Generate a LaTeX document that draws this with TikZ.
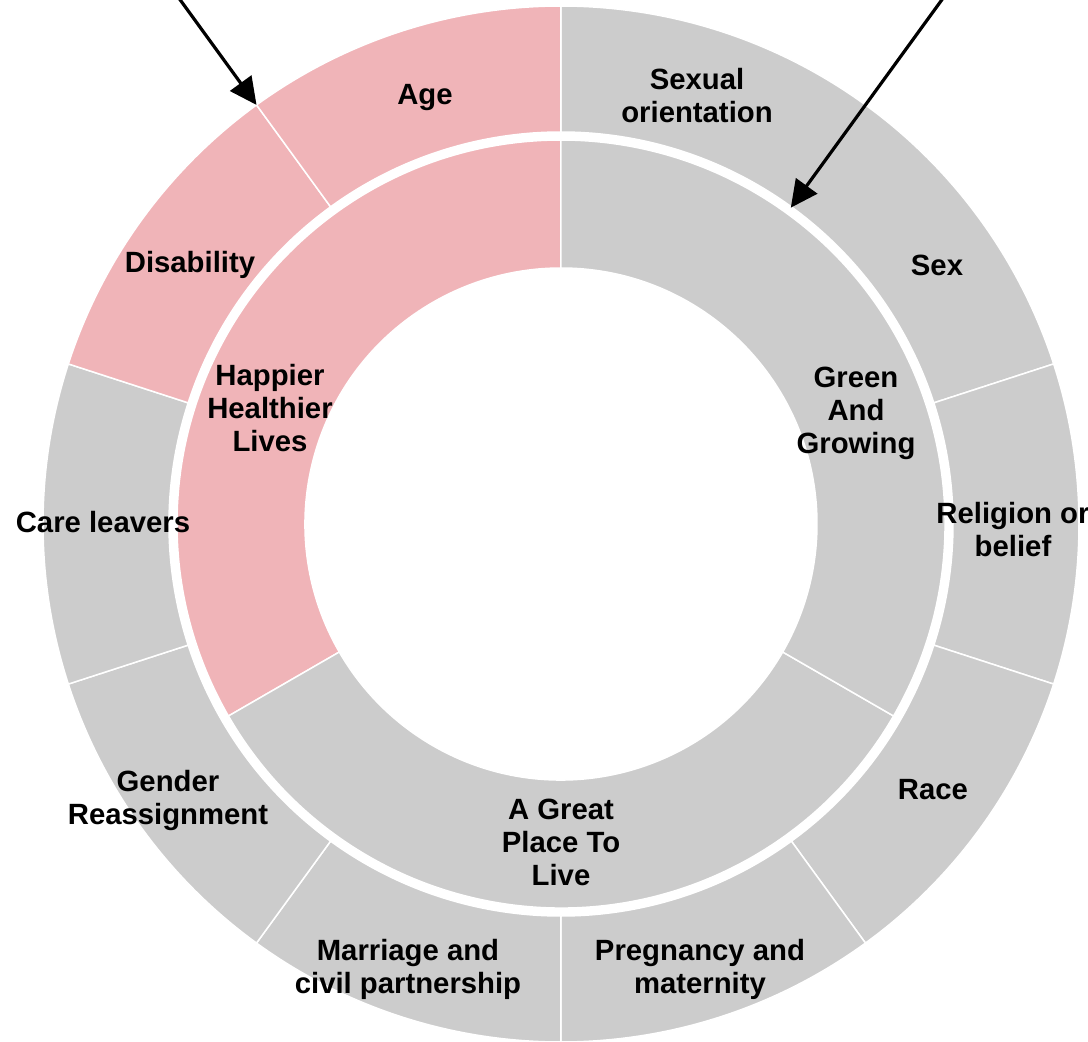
\documentclass[tikz,border=0pt]{standalone}
\usepackage{fontspec}
\setmainfont{Liberation Sans}
\usetikzlibrary{arrows.meta}
\definecolor{segpink}{RGB}{240,180,184}
\definecolor{seggray}{RGB}{204,204,204}
\begin{document}
\begin{tikzpicture}[x=1pt,y=1pt,
  lbl/.style={font=\fontsize{29.3}{33}\selectfont\bfseries, align=center, text=black, inner sep=0pt},
  seg/.style={draw=white, line width=1.5pt},
  pointer/.style={-{Triangle[length=27pt,width=26pt]}, line width=3.2pt, draw=black}]
\useasboundingbox (-561,-518) rectangle (527,524);
% outer ring
\foreach \a/\c in {54/seggray, 18/seggray, -18/seggray, -54/seggray, -90/seggray, -126/seggray, -162/seggray, 162/seggray, 126/segpink, 90/segpink}{
  \filldraw[seg, fill=\c] (\a:392) -- (\a:518) arc[start angle=\a, end angle=\a+36, radius=518] -- ({\a+36}:392) arc[start angle=\a+36, end angle=\a, radius=392] -- cycle;
}
% inner ring
\foreach \a/\c in {90/segpink, 210/seggray, -30/seggray}{
  \filldraw[seg, fill=\c] (\a:256) -- (\a:384) arc[start angle=\a, end angle=\a+120, radius=384] -- ({\a+120}:256) arc[start angle=\a+120, end angle=\a, radius=256] -- cycle;
}
% labels outer
\node[lbl] (age) at (-136,426) {Age};
\node[lbl] (sexor) at (136,428) {Sexual\\orientation};
\node[lbl] (sex) at (376,259) {Sex};
\node[lbl] (relig) at (452,-6) {Religion or\\belief};
\node[lbl] (race) at (372,-266) {Race};
\node[lbl] (preg) at (139,-445) {Pregnancy and\\maternity};
\node[lbl] (marr) at (-153,-445) {Marriage and\\civil partnership};
\node[lbl] (gender) at (-393,-276) {Gender\\Reassignment};
\node[lbl] (care) at (-458,2) {Care leavers};
\node[lbl] (disab) at (-371,259) {Disability};
% labels inner
\node[lbl] (happy) at (-291,116) {Happier\\Healthier\\Lives};
\node[lbl] (green) at (295,111) {Green\\And\\Growing};
\node[lbl] (great) at (0,-318) {A Great\\Place To\\Live};
% arrows
\coordinate (tipA) at (126:518);
\coordinate (tailA) at (126:690);
\coordinate (tipB) at (54:391);
\coordinate (tailB) at (54:690);
\draw[pointer] (tailA) -- (tipA);
\draw[pointer] (tailB) -- (tipB);
\end{tikzpicture}
\end{document}
